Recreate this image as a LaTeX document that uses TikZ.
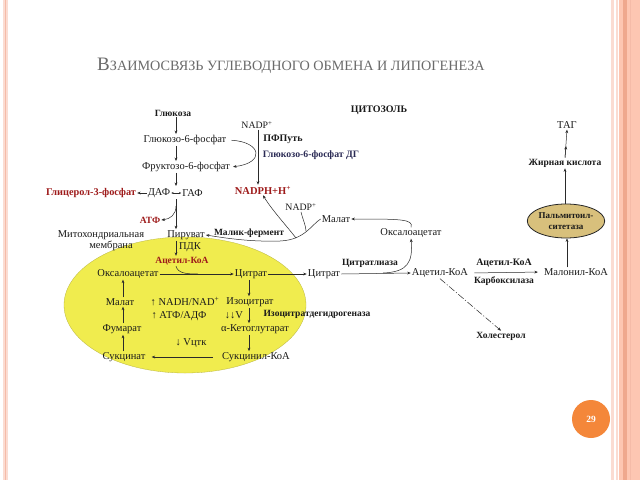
\documentclass[tikz,border=0pt]{standalone}
\usepackage{fontspec}
\setmainfont{Liberation Serif}
\usetikzlibrary{arrows.meta,shapes.geometric}
\definecolor{txt}{HTML}{1A1A1A}
\definecolor{lin}{HTML}{2A2A2A}
\definecolor{redt}{HTML}{9E1B1B}
\definecolor{bluet}{HTML}{2B2B55}
\definecolor{ttl}{HTML}{6A6A6A}
\definecolor{yel}{HTML}{F0EC4E}
\definecolor{yeledge}{HTML}{B8B440}
\definecolor{tan}{HTML}{D8C07C}
\definecolor{pk1}{HTML}{FBDCD2}
\definecolor{pk2}{HTML}{F5BBA8}
\definecolor{pk3}{HTML}{FDC6B2}
\definecolor{pk4}{HTML}{EFA88E}
\definecolor{orng}{HTML}{F4873A}
\tikzset{
  lbl/.style={font=\fontsize{10.5}{11}\selectfont, inner sep=1pt, text=txt},
  nlbl/.style={lbl, font=\fontsize{9.8}{11}\selectfont},
  blbl/.style={font=\bfseries\fontsize{9.5}{10}\selectfont, inner sep=1pt, text=txt},
  rlbl/.style={blbl, text=redt},
  arr/.style={draw=lin, line width=0.5pt, -{Stealth[length=3.5pt,width=2.8pt]}},
  darr/.style={draw=lin, line width=0.45pt, {Stealth[length=2.2pt,width=2pt]}-{Stealth[length=2.2pt,width=2pt]}},
  ln/.style={draw=lin, line width=0.5pt},
}
\begin{document}
\begin{tikzpicture}[x=1pt,y=-1pt]
\useasboundingbox (0,0) rectangle (640,480);
\fill[white] (0,0) rectangle (640,480);
% slide decorations
\fill[pk1] (3,0) rectangle (8,480);
\fill[pk2] (4.8,0) rectangle (6,480);
\fill[pk1] (611,0) rectangle (614,480);
\fill[pk1] (616,0) rectangle (618,480);
\fill[pk3] (619,0) rectangle (640,480);
\fill[pk4] (623,0) rectangle (626.5,480);
\fill[pk2] (630,0) rectangle (631,480);
% title
\node[text=ttl, inner sep=0pt] (title) at (291,66) {{\fontsize{19}{19}\selectfont В}{\fontsize{14.2}{14}\selectfont ЗАИМОСВЯЗЬ УГЛЕВОДНОГО ОБМЕНА И ЛИПОГЕНЕЗА}};
% page number
\node[circle, fill=orng, minimum size=38pt, inner sep=0pt, text=white, font=\bfseries\fontsize{9.5}{10}\selectfont] (pg) at (591,419) {29};
% mitochondrion
\draw[fill=yel, draw=yeledge, line width=0.3pt] (185,305) ellipse [x radius=121, y radius=68];
% glycolysis
\node[blbl] (g) at (173,113) {Глюкоза};
\node[lbl] (g6p) at (185,140) {Глюкозо-6-фосфат};
\node[lbl] (f6p) at (186,167) {Фруктозо-6-фосфат};
\node[lbl] (daf) at (159,193) {ДАФ};
\node[lbl] (gaf) at (192.5,193) {ГАФ};
\node[rlbl, font=\bfseries\fontsize{10.3}{11}\selectfont] (gl3p) at (91,193) {Глицерол-3-фосфат};
\node[rlbl] (atf) at (150,220) {АТФ};
\node[lbl] (mem1) at (101,235) {Митохондриальная};
\node[lbl] (mem2) at (111,246) {мембрана};
\node[lbl] (pir) at (186,235) {Пируват};
\node[lbl] (pdk) at (190,247) {ПДК};
\node[rlbl] (acoa) at (182,261) {Ацетил-КоА};
% cycle
\node[lbl] (oxa) at (128,274) {Оксалоацетат};
\node[lbl] (cit) at (251,274) {Цитрат};
\node[lbl] (izo) at (250,302) {Изоцитрат};
\node[lbl] (akg) at (255,329) {α-Кетоглутарат};
\node[lbl] (suk) at (256,357) {Сукцинил-КоА};
\node[lbl] (sukc) at (124,357) {Сукцинат};
\node[lbl] (fum) at (122,329) {Фумарат};
\node[lbl] (mal) at (120,302) {Малат};
\node[lbl] (nadh) at (185,302) {↑ NADH/NAD\textsuperscript{+}};
\node[lbl] (atfadf) at (179,316) {↑ АТФ/АДФ};
\node[lbl] (vv) at (234,315) {↓↓V};
\node[lbl] (vtck) at (191,343) {↓ Vцтк};
\node[blbl] (idh) at (317,314) {Изоцитратдегидрогеназа};
% cytosol
\node[blbl, font=\bfseries\fontsize{10}{11}\selectfont] (cyt) at (379,110) {ЦИТОЗОЛЬ};
\node[nlbl] (nadp1) at (257,125) {NADP\textsuperscript{+}};
\node[blbl, font=\bfseries\fontsize{10}{11}\selectfont] (pfp) at (283,139) {ПФПуть};
\node[blbl, text=bluet, font=\bfseries\fontsize{9.8}{11}\selectfont] (g6pdg) at (311,155) {Глюкозо-6-фосфат ДГ};
\node[rlbl, font=\bfseries\fontsize{10.5}{11}\selectfont] (nadph) at (263,190) {NADPH+H\textsuperscript{+}};
\node[nlbl] (nadp2) at (301,207) {NADP\textsuperscript{+}};
\node[lbl] (mal2) at (336,219) {Малат};
\node[blbl] (malik) at (249,233) {Малик-фермент};
\node[lbl] (oxa2) at (411,233) {Оксалоацетат};
\node[lbl] (cit2) at (324,274) {Цитрат};
\node[blbl] (cl) at (370,263) {Цитратлиаза};
\node[lbl] (acoa2) at (440,273) {Ацетил-КоА};
\node[blbl, font=\bfseries\fontsize{9.9}{11}\selectfont] (acc1) at (504,263) {Ацетил-КоА};
\node[blbl] (acc2) at (504,281) {Карбоксилаза};
\node[lbl] (malon) at (576,272) {Малонил-КоА};
\node[blbl] (chol) at (501,336) {Холестерол};
\node[ellipse, draw=black!85, line width=0.8pt, fill=tan, minimum width=66pt, minimum height=34pt, inner sep=0pt, align=center, font=\bfseries\fontsize{9}{11}\selectfont, text=txt] (pal) at (566,221) {Пальмитоил-\\ситетаза};
\node[blbl] (fa) at (565,163) {Жирная кислота};
\node[lbl] (tag) at (567,125) {ТАГ};
% helper columns
\coordinate (xm) at (176,0);
\coordinate (xl) at (123,0);
\coordinate (xr) at (249,0);
\coordinate (xn) at (258,0);
\coordinate (xR) at (567,0);
\coordinate (j1) at (176,186);
\coordinate (j2) at (176,199);
\coordinate (jA) at (176,206);
\coordinate (jN) at (296,238);
\coordinate (jP) at (306,231);
\coordinate (jC) at (383,273);
\coordinate (jT) at (566,146);
% glycolysis arrows
\draw[arr] (g.south -| xm) -- (g6p.north -| xm);
\draw[arr] (g6p.south -| xm) -- (f6p.north -| xm);
\draw[arr] (f6p.south -| xm) -- (j1);
\draw[darr] (daf.east) -- (gaf.west);
\draw[arr] (daf.west) -- (gl3p.east);
\draw[arr] (j2) -- (pir.north -| xm);
\draw[arr] (jA) .. controls (176,215) and (170,219) .. (atf.east);
\draw[arr] (pir.south -| xm) -- (acoa.north -| xm);
\draw[ln] (acoa.south -| xm) .. controls (178,273) and (185,274) .. (198,274);
% cycle arrows
\draw[arr] (oxa.east) -- (cit.west);
\draw[arr] (cit.south -| xr) -- (izo.north -| xr);
\draw[arr] (izo.south -| xr) -- (akg.north -| xr);
\draw[arr] (akg.south -| xr) -- (suk.north -| xr);
\draw[arr, shorten <=8pt, shorten >=5pt] (suk.west) -- (sukc.east);
\draw[arr] (sukc.north -| xl) -- (fum.south -| xl);
\draw[arr] (fum.north -| xl) -- (mal.south -| xl);
\draw[arr] (mal.north -| xl) -- (oxa.south -| xl);
% pentose phosphate
\draw[arr] (nadp1.south -| xn) -- (nadph.north -| xn);
\draw[arr, shorten <=4pt, shorten >=2pt] (g6p.east) .. controls (262,142) and (265,163) .. (f6p.east);
% malic enzyme
\draw[arr] (mal2.west) .. controls (312,224) and (305,240) .. (280,241) .. controls (250,242) and (225,238) .. (pir.east);
\draw[ln] (nadp2.south) .. controls (303,220) and (306,226) .. (jP);
\draw[arr] (jN) .. controls (285,224) and (272,210) .. (nadph.south);
% citrate shuttle
\draw[arr] (cit.east) -- (cit2.west);
\draw[arr] (cit2.east) -- (acoa2.west);
\draw[arr] (jC) .. controls (408,272) and (413,262) .. (oxa2.south);
\draw[arr] (oxa2.north) .. controls (414,219) and (400,219) .. (mal2.east);
% lipogenesis
\draw[arr, shorten <=5pt, shorten >=5pt] (acoa2.east) -- (malon.west);
\draw[arr] (malon.north -| xR) -- (pal.south -| xR);
\draw[arr] (pal.north -| fa.south) -- (fa.south);
\draw[arr] (fa.north) -- (tag.south);
\draw[arr] (fa.north) -- (jT);
\draw[arr, dash pattern=on 7pt off 2pt on 1pt off 2pt] (acoa2.south) -- (chol.north);
\end{tikzpicture}
\end{document}
